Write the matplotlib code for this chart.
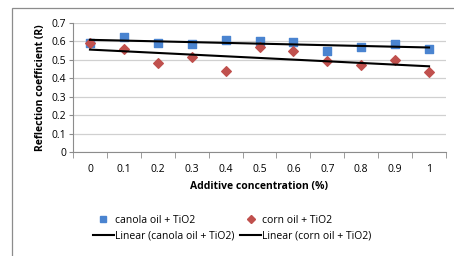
import numpy as np
import matplotlib
matplotlib.use("Agg")
import matplotlib.pyplot as plt
from matplotlib.lines import Line2D
from matplotlib.patches import Rectangle

categories = ["0", "0.1", "0.2", "0.3", "0.4", "0.5", "0.6", "0.7", "0.8", "0.9", "1"]
canola = [0.594, 0.623, 0.592, 0.585, 0.607, 0.602, 0.596, 0.550, 0.572, 0.585, 0.561]
corn = [0.594, 0.561, 0.482, 0.516, 0.437, 0.572, 0.550, 0.495, 0.473, 0.498, 0.436]
yticks = [0, 0.1, 0.2, 0.3, 0.4, 0.5, 0.6, 0.7]

plt.rcParams['font.family'] = ['Open Sans', 'DejaVu Sans']

fig = plt.figure(figsize=(4.54, 2.56), dpi=100)
fig.patches.append(Rectangle((12/454, -0.1), 1.0, 1.1 - 8/256, transform=fig.transFigure,
                             fill=False, edgecolor='#8c8c8c', linewidth=0.9))
ax = fig.add_axes([73/454, 1 - 152/256, 373/454, 129/256])

x = np.arange(1, len(categories) + 1)
ax.set_xlim(0.5, len(categories) + 0.5)
ax.set_ylim(0, 0.7)
ax.set_yticks(yticks)
ax.set_yticklabels(["0", "0.1", "0.2", "0.3", "0.4", "0.5", "0.6", "0.7"], fontsize=7.5)
ax.yaxis.grid(True, color='#d0d0d0', linewidth=0.9)
ax.set_axisbelow(True)

ax.set_xticks(x)
ax.set_xticklabels(categories, fontsize=7.5)
ax.set_xticks(np.arange(0.5, len(categories) + 1), minor=True)
ax.tick_params(axis='x', which='major', length=0, pad=9)
ax.tick_params(axis='x', which='minor', length=4, color='#8c8c8c')
ax.tick_params(axis='y', length=3, color='#8c8c8c', pad=2)
for s in ['top', 'right']:
    ax.spines[s].set_visible(False)
for s in ['left', 'bottom']:
    ax.spines[s].set_color('#8c8c8c')

blue = '#4a84d0'
red = '#c0504d'
ax.scatter(x, canola, marker='s', s=30, color=blue, zorder=3)
ax.scatter(x, corn, marker='D', s=24, color=red, zorder=3)

p1 = np.polyfit(x, canola, 1)
p2 = np.polyfit(x, corn, 1)
ax.plot(x, np.polyval(p1, x), color='black', linewidth=1.5, zorder=4)
ax.plot(x, np.polyval(p2, x), color='black', linewidth=1.5, zorder=4)

ax.set_ylabel("Reflection coefficient (R)", fontsize=7.5, fontweight='bold', labelpad=4)
ax.set_xlabel("Additive concentration (%)", fontsize=7.5, fontweight='bold', labelpad=4)

handles = [
    Line2D([], [], marker='s', linestyle='none', color=blue, markersize=5),
    Line2D([], [], color='black', linewidth=1.5),
    Line2D([], [], marker='D', linestyle='none', color=red, markersize=4.5),
    Line2D([], [], color='black', linewidth=1.5),
]
labels = ["canola oil + TiO2", "Linear (canola oil + TiO2)", "corn oil + TiO2", "Linear (corn oil + TiO2)"]
fig.legend(handles, labels, ncol=2, loc='center', bbox_to_anchor=(232/454, 1 - 228/256),
           frameon=False, fontsize=7.5, handlelength=2.0, handletextpad=0.1,
           columnspacing=0.6, labelspacing=0.45)

fig.savefig("out.png", dpi=100)
